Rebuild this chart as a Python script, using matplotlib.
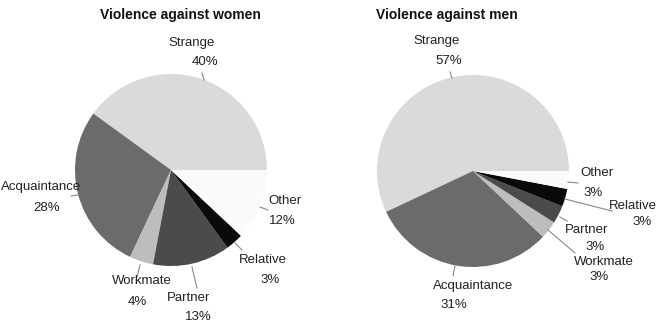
import matplotlib
matplotlib.use("Agg")
import matplotlib.pyplot as plt

plt.rcParams['font.family'] = ['Liberation Sans Narrow', 'Liberation Sans', 'DejaVu Sans']

# data
categories_w = ['Strange', 'Acquaintance', 'Workmate', 'Partner', 'Relative', 'Other']
values_w = [40, 28, 4, 13, 3, 12]
categories_m = ['Strange', 'Acquaintance', 'Workmate', 'Partner', 'Relative', 'Other']
values_m = [57, 31, 3, 3, 3, 3]
colors = {'Strange': '#dadada', 'Acquaintance': '#6b6b6b', 'Workmate': '#bdbdbd',
          'Partner': '#4b4b4b', 'Relative': '#0a0a0a', 'Other': '#fafafa'}

# label placement (pixels): name xy, pct xy, leader start/end, name alignment
lab_w = {
    'Strange': ((192, 43), (205, 62), (202, 73), (204, 80), 'center'),
    'Acquaintance': ((1, 187), (47, 208), (71, 196), (78, 195), 'left'),
    'Other': ((285, 201), (282, 221), (260, 207), (268, 210), 'center'),
    'Relative': ((263, 260), (270, 280), (235, 243), (242, 250), 'center'),
    'Partner': ((189, 298), (198, 317), (192, 267), (197, 288), 'center'),
    'Workmate': ((142, 281), (137, 302), (140, 265), (137, 277), 'center'),
}
lab_m = {
    'Strange': ((437, 41), (449, 61), (450, 72), (452, 78), 'center'),
    'Acquaintance': ((473, 286), (454, 305), (455, 266), (453, 276), 'center'),
    'Other': ((597, 173), (593, 193), (568, 182), (578, 183), 'center'),
    'Relative': ((633, 206), (642, 222), (565, 199), (612, 211), 'center'),
    'Partner': ((587, 230), (595, 247), (560, 217), (567, 221), 'center'),
    'Workmate': ((604, 262), (599, 277), (548, 230), (575, 253), 'center'),
}

fig = plt.figure(figsize=(6.6, 3.25), dpi=100)
ax = fig.add_axes([0, 0, 1, 1])


def draw(cats, vals, center, labs, title, title_x):
    ax.pie(vals, colors=[colors[c] for c in cats], center=center, radius=96,
           startangle=0, counterclock=False, frame=True,
           wedgeprops=dict(linewidth=0))
    ax.text(title_x, 15, title, ha='center', va='center', fontsize=10,
            fontweight='bold', color='#111111')
    for c, v in zip(cats, vals):
        name_xy, pct_xy, p0, p1, ha = labs[c]
        ax.text(name_xy[0], name_xy[1], c, ha=ha, va='center', fontsize=9.5, color='#222222')
        ax.text(pct_xy[0], pct_xy[1], f'{v}%', ha='center', va='center', fontsize=9.5, color='#222222')
        ax.plot([p0[0], p1[0]], [p0[1], p1[1]], color='#888888', lw=0.8)


draw(categories_w, values_w, (171, 170), lab_w, 'Violence against women', 180)
draw(categories_m, values_m, (473, 171), lab_m, 'Violence against men', 447)

ax.set_xlim(0, 660)
ax.set_ylim(325, 0)
ax.axis('off')

fig.savefig('out.png', dpi=100, facecolor='white')
